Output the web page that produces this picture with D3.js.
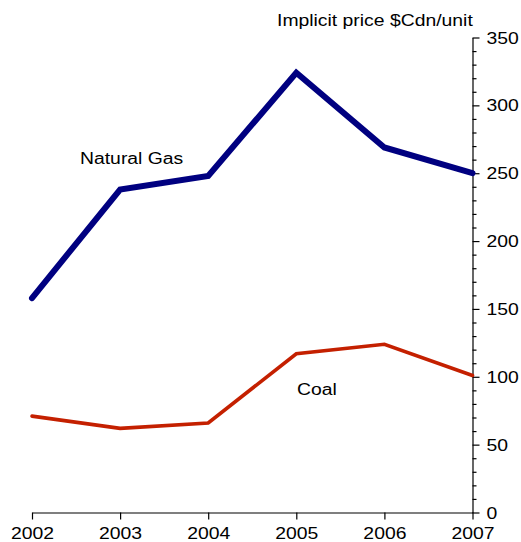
<!DOCTYPE html>
<html><head><meta charset="utf-8">
<script src="https://cdn.jsdelivr.net/npm/d3@7"></script>
<style>body{margin:0;background:#fff}svg{display:block}text{font-family:"Liberation Sans",Arial,sans-serif;fill:#000}</style>
</head><body>
<svg id="c" width="521" height="542"></svg>
<script>
const years = [2002, 2003, 2004, 2005, 2006, 2007];
const naturalGas = [158, 238, 248, 324, 269, 250];
const coal = [71, 62, 66, 117, 124, 101];
const yTicks = [0, 50, 100, 150, 200, 250, 300, 350];
const yMinorTicks = d3.range(0, 351, 10);
const yTitle = "Implicit price $Cdn/unit";

const FS = 17.3, STRETCH = 1.12;
const svg = d3.select("#c");
const x = d3.scaleLinear().domain([2002, 2007]).range([32, 472.5]);
const y = d3.scaleLinear().domain([0, 350]).range([512.5, 37.5]);

function stretch(sel) {
  sel.each(function () {
    const w = this.getComputedTextLength();
    d3.select(this).attr("textLength", w * STRETCH).attr("lengthAdjust", "spacingAndGlyphs");
  });
}

// x axis
const xAxis = d3.axisBottom(x).tickValues(years).tickFormat(d3.format("d")).tickSize(7).tickSizeOuter(0);
const gx = svg.append("g").attr("transform", "translate(0,512.5)").call(xAxis);
gx.select(".domain").attr("stroke", "#000").attr("stroke-width", 1.2);
gx.selectAll(".tick line").attr("stroke", "#000").attr("stroke-width", 1.2);
gx.selectAll(".tick text").attr("font-size", FS).attr("dy", 0).attr("y", 26.5)
  .style("font-family", "Liberation Sans, Arial, sans-serif").call(stretch);

// y axis right
const yMinor = d3.axisRight(y).tickValues(yMinorTicks.filter(v => v % 50 !== 0)).tickSize(4).tickFormat("").tickSizeOuter(0);
const gym = svg.append("g").attr("transform", "translate(472.5,0)").call(yMinor);
gym.select(".domain").attr("stroke", "#000").attr("stroke-width", 1.2);
gym.selectAll(".tick line").attr("stroke", "#000").attr("stroke-width", 1.2);
const yAxis = d3.axisRight(y).tickValues(yTicks).tickSize(7).tickPadding(7).tickSizeOuter(0);
const gy = svg.append("g").attr("transform", "translate(472.5,0)").call(yAxis);
gy.select(".domain").remove();
gy.selectAll(".tick line").attr("stroke", "#000").attr("stroke-width", 1.2);
gy.selectAll(".tick text").attr("font-size", FS).style("font-family", "Liberation Sans, Arial, sans-serif").call(stretch);

svg.append("text").attr("x", 277).attr("y", 26).attr("font-size", FS).text(yTitle).call(stretch);

const line = d3.line().x((d, i) => x(years[i])).y(d => y(d));
svg.append("path").datum(coal).attr("d", line).attr("fill", "none")
  .attr("stroke", "#c42000").attr("stroke-width", 3.6).attr("stroke-linejoin", "miter").attr("stroke-linecap", "round");
svg.append("path").datum(naturalGas).attr("d", line).attr("fill", "none")
  .attr("stroke", "#000080").attr("stroke-width", 6).attr("stroke-linejoin", "miter").attr("stroke-linecap", "round");

svg.append("text").attr("x", 80).attr("y", 163.5).attr("font-size", FS).text("Natural Gas").call(stretch);
svg.append("text").attr("x", 297).attr("y", 395).attr("font-size", FS).text("Coal").call(stretch);
</script>
</body></html>
